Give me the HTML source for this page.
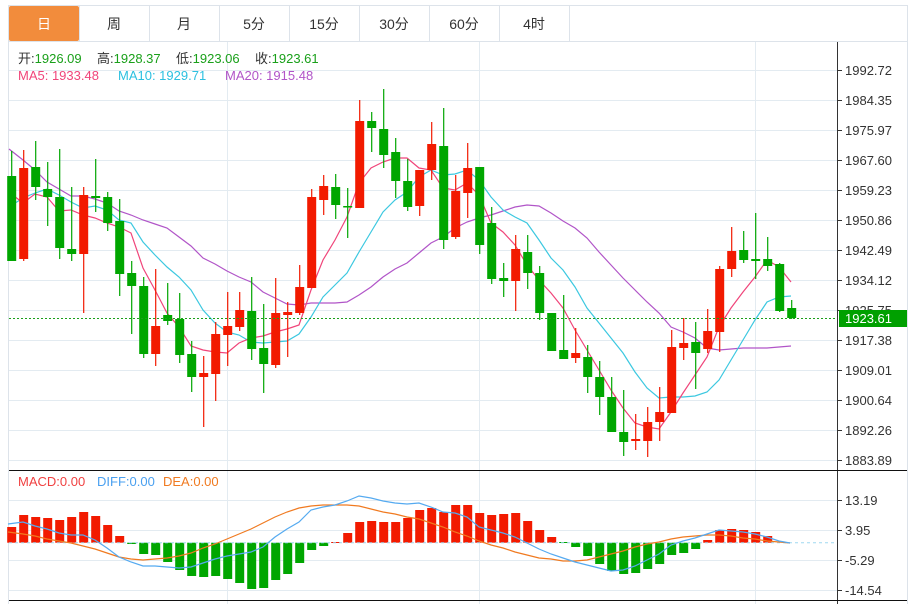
<!DOCTYPE html>
<html><head><meta charset="utf-8"><style>
html,body{margin:0;padding:0;background:#fff;width:912px;height:604px;overflow:hidden}
svg{display:block;font-family:"Liberation Sans","Noto Sans CJK SC",sans-serif}
</style></head><body>
<svg id="s" width="912" height="604" xmlns="http://www.w3.org/2000/svg">
<rect x="8.5" y="5.5" width="899" height="610" fill="#fff" stroke="#dde3ea"/>
<line x1="8.5" y1="41.5" x2="908" y2="41.5" stroke="#dde3ea"/>
<rect x="9" y="6" width="70" height="35" fill="#f28c3c" rx="2"/>
<g stroke="#dde3ea"><line x1="79.5" y1="6" x2="79.5" y2="41"/><line x1="149.5" y1="6" x2="149.5" y2="41"/><line x1="219.5" y1="6" x2="219.5" y2="41"/><line x1="289.5" y1="6" x2="289.5" y2="41"/><line x1="359.5" y1="6" x2="359.5" y2="41"/><line x1="429.5" y1="6" x2="429.5" y2="41"/><line x1="499.5" y1="6" x2="499.5" y2="41"/><line x1="569.5" y1="6" x2="569.5" y2="41"/></g>
<g font-size="14" text-anchor="middle" fill="#333"><text x="44" y="29" fill="#fff">日</text><text x="114" y="29">周</text><text x="184" y="29">月</text><text x="254" y="29">5分</text><text x="324" y="29">15分</text><text x="394" y="29">30分</text><text x="464" y="29">60分</text><text x="534" y="29">4时</text></g>
<g id="grid"></g>
<g id="main"></g>
<line x1="837.5" y1="42" x2="837.5" y2="604" stroke="#333"/>
<line x1="9" y1="470.5" x2="907" y2="470.5" stroke="#111"/>
<line x1="9" y1="600.5" x2="907" y2="600.5" stroke="#111"/>
<g font-size="13"><text x="18" y="63" fill="#333">开:<tspan fill="#1aa01a">1926.09</tspan></text><text x="97" y="63" fill="#333">高:<tspan fill="#1aa01a">1928.37</tspan></text><text x="176" y="63" fill="#333">低:<tspan fill="#1aa01a">1923.06</tspan></text><text x="255" y="63" fill="#333">收:<tspan fill="#1aa01a">1923.61</tspan></text>
<text x="18" y="80" fill="#f0457a">MA5: 1933.48</text><text x="118" y="80" fill="#2cc0e0">MA10: 1929.71</text><text x="225" y="80" fill="#b155c8">MA20: 1915.48</text>
<text x="18" y="486" fill="#f04040">MACD:0.00</text><text x="97" y="486" fill="#4aa0f0">DIFF:0.00</text><text x="163" y="486" fill="#f07a20">DEA:0.00</text></g>
<g id="axis" font-size="13" fill="#333"></g>
<line x1="9" y1="318.5" x2="837" y2="318.5" stroke="#1aa01a" stroke-dasharray="2,2"/>
<rect x="839" y="310" width="68" height="17" fill="#00a000"/>
<text x="845" y="323" font-size="13" fill="#fff">1923.61</text>
</svg>
<script>
var NS="http://www.w3.org/2000/svg";
function el(p,t,a,txt){var e=document.createElementNS(NS,t);for(var k in a)e.setAttribute(k,a[k]);if(txt)e.textContent=txt;document.getElementById(p).appendChild(e);return e;}
// grid
for(var y=70.5;y<=461;y+=30)el("grid","line",{x1:9,y1:y,x2:837,y2:y,stroke:"#e3ebf1"});
[500.5,530.5,560.5,590.5].forEach(function(y){el("grid","line",{x1:9,y1:y,x2:837,y2:y,stroke:"#e3ebf1"})});
[227.5,479.5,755.5].forEach(function(x){el("grid","line",{x1:x,y1:42,x2:x,y2:604,stroke:"#e3ebf1"})});
var labs=["1992.72","1984.35","1975.97","1967.60","1959.23","1950.86","1942.49","1934.12","1925.75","1917.38","1909.01","1900.64","1892.26","1883.89"];
labs.forEach(function(l,i){var y=70+i*30;el("axis","line",{x1:837,y1:y+.5,x2:842,y2:y+.5,stroke:"#333"});el("axis","text",{x:845,y:y+5},l)});
[["13.19",500],["3.95",530],["-5.29",560],["-14.54",590]].forEach(function(a){el("axis","line",{x1:837,y1:a[1]+.5,x2:842,y2:a[1]+.5,stroke:"#333"});el("axis","text",{x:845,y:a[1]+5},a[0])});
var R="#f21a00",G="#00a600";
// candles: [bodyTop, bodyBot, high, low, color]
var C=[[176,261,151,261,G],[168,259,150,261,R],[167,187,141,200,G],[189,197,162,226,G],[197,248,149,259,G],[249,254,187,261,G],[195,254,187,313,R],[196,198,159,212,G],[197,223,192,231,G],[221,274,199,296,G],
[273,286,261,334,G],[286,354,277,358,G],[326,354,269,366,R],[315,321,283,325,G],[319,355,293,363,G],[354,377,341,392,G],[373,377,356,427,R],[334,374,322,401,R],[326,335,292,366,R],[310,327,292,331,R],
[311,349,277,360,G],[348,364,304,393,G],[313,365,278,368,R],[312,315,302,357,R],[287,313,265,315,R],[197,288,189,288,R],[186,200,175,215,R],[187,205,174,219,G],[206,207,188,238,G],[121,208,100,208,R],
[121,128,112,152,G],[129,155,89,168,G],[152,181,138,198,G],[181,207,159,211,G],[170,206,170,216,R],[144,170,122,180,R],[146,240,108,249,G],[191,237,175,239,R],[168,193,143,218,R],[167,245,167,254,G],
[223,279,207,284,G],[278,281,263,297,G],[249,281,235,311,R],[252,273,235,289,G],[273,313,266,320,G],[313,351,313,351,G],[350,359,295,359,G],[353,358,328,363,R],[357,377,345,393,G],[377,397,361,415,G],
[397,432,377,432,G],[432,442,390,456,G],[439,441,414,450,R],[422,441,407,457,R],[412,422,387,441,R],[347,413,330,413,R],[343,348,318,360,R],[342,353,322,389,G],[331,349,309,353,R],[269,332,266,352,R],
[251,269,227,277,R],[250,260,231,263,G],[259,261,213,279,G],[259,266,237,271,G],[264,311,263,312,G],[308,318,300,319,G]];
function X(i){return 11.7+12*i}
function pl(pts,col,p){el(p,"polyline",{points:pts.map(function(q){return q.join(",")}).join(" "),fill:"none",stroke:col,"stroke-width":1.2})}
pl([[9,149],[23,160],[35,170],[47,182],[59,189],[71,196],[83,196],[95,199],[107,203],[119,211],[131,215],[143,220],[155,224],[167,228],[179,237],[191,246],[203,258],[215,264],[227,271],[239,277],[251,282],[263,292],[275,298],[287,304],[299,305],[311,303],[323,303],[335,303],[347,302],[359,295],[371,287],[383,277],[395,269],[407,263],[419,253],[431,243],[443,237],[455,228],[467,222],[479,218],[491,215],[503,211],[515,207],[527,205],[539,206],[551,213],[563,221],[575,228],[587,238],[599,252],[611,265],[623,278],[635,290],[647,302],[659,313],[671,327],[683,332],[695,338],[707,348],[719,350],[731,349],[743,348],[755,348],[767,348],[779,347],[791,346]],"#b155c8","main");
pl([[9,207],[23,198],[35,193],[47,189],[59,195],[71,202],[83,208],[95,206],[107,210],[119,220],[131,223],[143,242],[155,255],[167,267],[179,277],[191,290],[203,310],[215,323],[227,332],[239,335],[251,342],[263,343],[275,342],[287,341],[299,334],[311,317],[323,297],[335,285],[347,273],[359,252],[371,232],[383,212],[395,200],[407,192],[419,177],[431,170],[443,175],[455,174],[467,170],[479,180],[491,197],[503,210],[515,217],[527,223],[539,240],[551,258],[563,270],[575,287],[587,308],[599,323],[611,338],[623,353],[635,372],[647,388],[659,398],[671,397],[683,397],[695,396],[707,392],[719,380],[731,360],[743,340],[755,320],[767,302],[779,297],[791,296]],"#3cc8e0","main");
pl([[9,192],[23,203],[35,194],[47,197],[59,211],[71,210],[83,215],[95,218],[107,223],[119,227],[131,233],[143,268],[155,290],[167,313],[179,327],[191,346],[203,350],[215,352],[227,353],[239,343],[251,338],[263,336],[275,332],[287,329],[299,325],[311,290],[323,260],[335,240],[347,217],[359,183],[371,168],[383,162],[395,158],[407,158],[419,168],[431,170],[443,188],[455,190],[467,183],[479,195],[491,223],[503,232],[515,245],[527,265],[539,280],[551,293],[563,308],[575,330],[587,350],[599,370],[611,390],[623,408],[635,423],[647,427],[659,429],[671,412],[683,393],[695,375],[707,357],[719,327],[731,308],[743,292],[755,277],[767,260],[779,267],[791,282]],"#f0457a","main");
C.forEach(function(c,i){var x=X(i);el("main","line",{x1:x,y1:c[2],x2:x,y2:c[3],stroke:c[4],"stroke-width":1.2});el("main","rect",{x:x-4.5,y:c[0],width:9,height:Math.max(1.5,c[1]-c[0]),fill:c[4]});});
// MACD bars tops
var M=[527,515,517,518,520,517,512,516,525,536,544,554,555,562,570,576,577,576,579,583,589,588,580,574,563,550,546,542,533,522,521,522,522,518,510,508,512,505,505,513,515,514,513,521,530,537,542,547,556,564,571,574,573,569,564,555,553,549,540,530,529,530,532,536];
var Z=542.7;
M.forEach(function(t,i){var x=X(i);var g=t>Z||(i>=10&&i<=26)||(i>=46&&i<=57);var y=Math.min(t,Z),h=Math.max(1,Math.abs(t-Z));el("main","rect",{x:x-4.5,y:y,width:9,height:h,fill:g?G:R});});
el("main","line",{x1:9,y1:Z,x2:837,y2:Z,stroke:"#9fd8f0","stroke-dasharray":"3,3"});
pl([[8,532],[23,534],[35,536],[47,539],[59,541],[71,543],[83,546],[95,549],[107,553],[119,557],[131,559],[143,560],[155,559],[167,558],[179,556],[191,553],[203,548],[215,544],[227,539],[239,534],[251,529],[263,523],[275,517],[287,512],[299,508],[311,506],[323,505],[335,505],[347,505],[359,506],[371,509],[383,512],[395,514],[407,517],[419,519],[431,523],[443,527],[455,532],[467,536],[479,541],[491,545],[503,548],[515,552],[527,555],[539,558],[551,559],[563,561],[575,561],[587,560],[599,557],[611,554],[623,551],[635,547],[647,544],[659,542],[671,539],[683,537],[695,536],[707,535],[719,535],[731,536],[743,538],[755,539],[767,541],[779,542],[790,543]],"#f07a20","main");
pl([[8,524],[23,522],[35,526],[47,529],[59,533],[71,535],[83,535],[95,540],[107,548],[119,557],[131,562],[143,566],[155,566],[167,567],[179,568],[191,567],[203,563],[215,559],[227,556],[239,554],[251,552],[263,547],[275,537],[287,529],[299,522],[311,510],[323,507],[335,505],[347,501],[359,496],[371,498],[383,501],[395,503],[407,504],[419,503],[431,507],[443,512],[455,513],[467,517],[479,527],[491,530],[503,533],[515,537],[527,543],[539,549],[551,554],[563,558],[575,562],[587,565],[599,568],[611,571],[623,570],[635,566],[647,560],[659,554],[671,545],[683,541],[695,538],[707,534],[719,530],[731,531],[743,532],[755,534],[767,537],[779,541],[790,543]],"#55aaf0","main");
</script>
</body></html>
